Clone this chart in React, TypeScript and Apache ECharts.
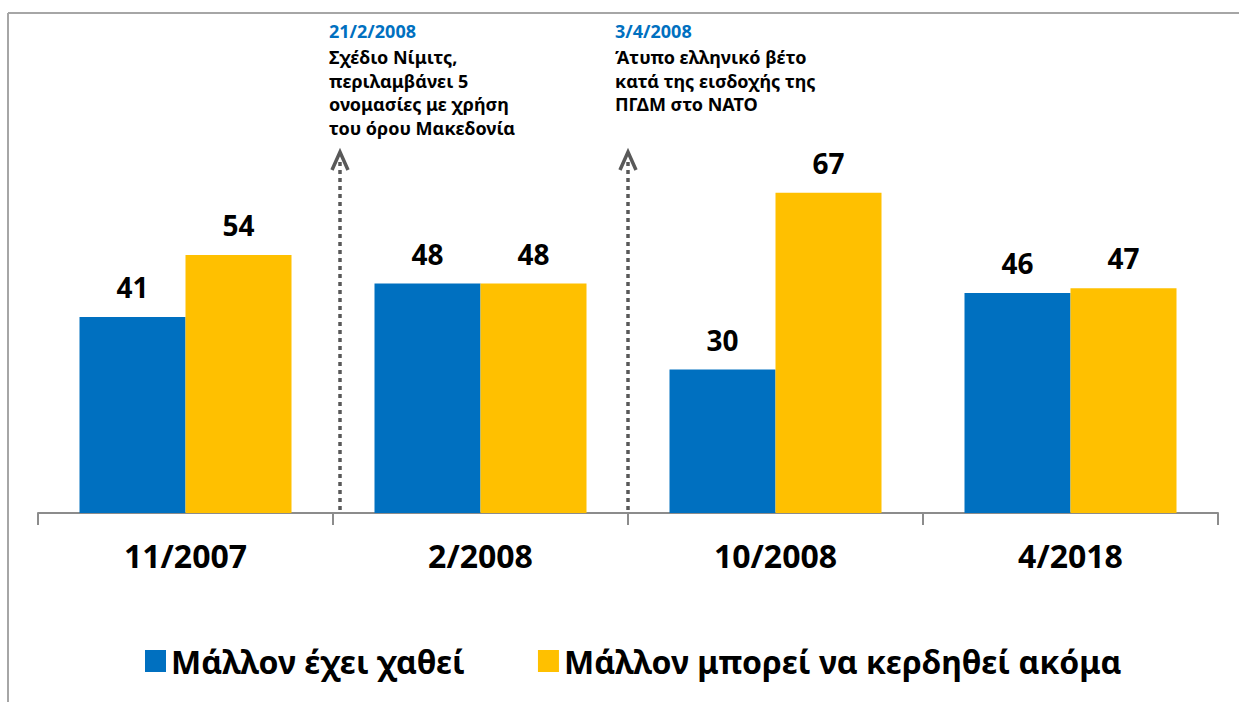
import React, { useEffect, useRef } from "react";
import * as echarts from "echarts";

const categories = ["11/2007", "2/2008", "10/2008", "4/2018"];
const seriesNames = ["Μάλλον έχει χαθεί", "Μάλλον μπορεί να κερδηθεί ακόμα"];
const lostValues = [41, 48, 30, 46];
const winValues = [54, 48, 67, 47];
const note1Date = "21/2/2008";
const note1Lines = ["Σχέδιο Νίμιτς,", "περιλαμβάνει 5", "ονομασίες με χρήση", "του όρου Μακεδονία"];
const note2Date = "3/4/2008";
const note2Lines = ["Άτυπο ελληνικό βέτο", "κατά της εισδοχής της", "ΠΓΔΜ στο ΝΑΤΟ"];

const FONT = "Noto Sans";
const BLUE = "#0070C0";
const YELLOW = "#FFC000";

export default function App() {
  const ref = useRef<HTMLDivElement>(null);
  useEffect(() => {
    document.body.style.margin = "0";
    const chart = echarts.init(ref.current!, null, { renderer: "svg" });
    const noteStyle = (x: number, y: number, date: string, lines: string[]) => [
      {
        type: "text",
        left: x,
        top: y,
        style: { text: date, fill: BLUE, fontFamily: FONT, fontWeight: "bold", fontSize: 18 },
      },
      {
        type: "text",
        left: x,
        top: y + 23.5,
        style: {
          text: lines.join("\n"),
          fill: "#000",
          fontFamily: FONT,
          fontWeight: "bold",
          fontSize: 18,
          lineHeight: 23.5,
        },
      },
    ];
    const arrow = (x: number) => [
      {
        type: "line",
        shape: { x1: x, y1: 162, x2: x, y2: 513 },
        style: { stroke: "#595959", lineWidth: 3.5, lineDash: [4, 4] },
      },
      {
        type: "polyline",
        shape: { points: [[x - 8, 170], [x, 152], [x + 8, 170]] },
        style: { stroke: "#595959", lineWidth: 3.5, fill: "none" },
      },
    ];
    chart.setOption({
      animation: false,
      grid: { left: 38, right: 21, top: 35, bottom: 189 },
      legend: {
        left: 140,
        top: 640,
        itemWidth: 21,
        itemHeight: 22,
        itemGap: 73,
        icon: "rect",
        textStyle: { fontFamily: FONT, fontWeight: "bold", fontSize: 32, color: "#000" },
        data: seriesNames,
      },
      xAxis: {
        type: "category",
        data: categories,
        axisLine: { lineStyle: { color: "#8c8c8c", width: 2 } },
        axisTick: { show: true, length: 12, lineStyle: { color: "#8c8c8c", width: 2 } },
        axisLabel: { fontFamily: FONT, fontWeight: "bold", fontSize: 32, color: "#000", margin: 26 },
      },
      yAxis: { type: "value", min: 0, max: 100, show: false, splitLine: { show: false } },
      series: [
        {
          name: seriesNames[0],
          type: "bar",
          data: lostValues,
          barWidth: 106,
          barGap: "0%",
          itemStyle: { color: BLUE },
          label: { show: true, position: "top", distance: 16, fontFamily: FONT, fontWeight: "bold", fontSize: 28, color: "#000" },
        },
        {
          name: seriesNames[1],
          type: "bar",
          data: winValues,
          barWidth: 106,
          barGap: "0%",
          itemStyle: { color: YELLOW },
          label: { show: true, position: "top", distance: 16, fontFamily: FONT, fontWeight: "bold", fontSize: 28, color: "#000" },
        },
      ],
      graphic: [
        { type: "line", shape: { x1: 8, y1: 13, x2: 1239, y2: 13 }, style: { stroke: "#a6a6a6", lineWidth: 2 } },
        { type: "line", shape: { x1: 8, y1: 13, x2: 8, y2: 702 }, style: { stroke: "#a6a6a6", lineWidth: 2 } },
        ...arrow(340),
        ...arrow(628),
        ...noteStyle(329, 22, note1Date, note1Lines),
        ...noteStyle(615, 22, note2Date, note2Lines),
      ],
    });
    return () => chart.dispose();
  }, []);
  return <div ref={ref} style={{ width: 1239, height: 702 }} />;
}
